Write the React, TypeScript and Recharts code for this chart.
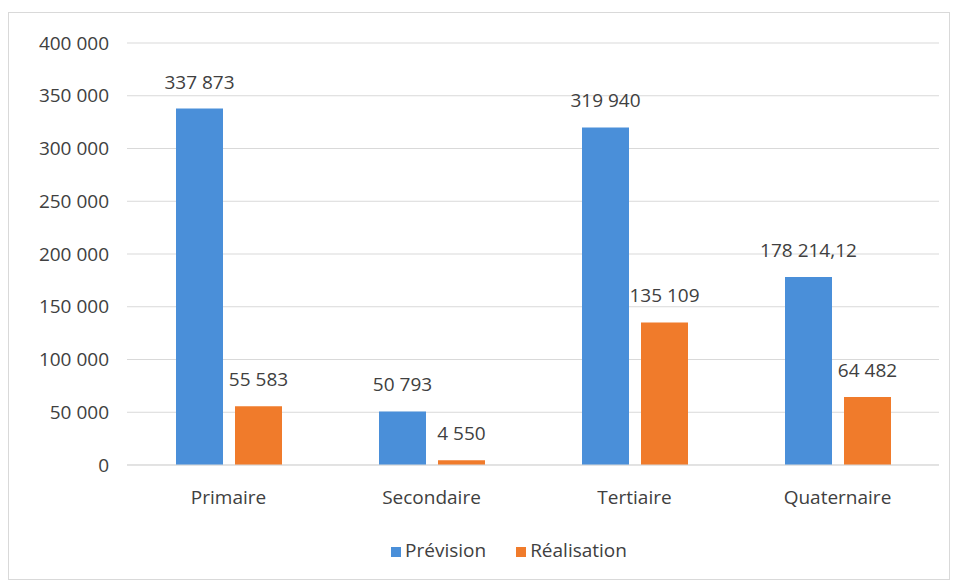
import React from 'react';
import { BarChart, Bar, XAxis, YAxis, CartesianGrid, Legend, LabelList } from 'recharts';

const categories = ['Primaire', 'Secondaire', 'Tertiaire', 'Quaternaire'];
const prevision = [337873, 50793, 319940, 178214.12];
const realisation = [55583, 4550, 135109, 64482];
const yTicks = [0, 50000, 100000, 150000, 200000, 250000, 300000, 350000, 400000];

const data = categories.map((name, i) => ({
  name,
  prevision: prevision[i],
  realisation: realisation[i],
}));

// French style: space as thousands separator, comma for decimals
const fmt = (v: number) => {
  const [int, dec] = String(v).split('.');
  const grouped = int.replace(/\B(?=(\d{3})+(?!\d))/g, ' ');
  return dec ? `${grouped},${dec}` : grouped;
};

const FONT = '"Open Sans", "Liberation Sans", sans-serif';
const TEXT = '#404040';
const FS = 19;

// single-line value label above each bar (default label wraps long numbers)
const TopLabel = (props: any) => {
  const { x, y, width, value } = props;
  return (
    <text x={x + width / 2} y={y - 20} textAnchor="middle" fill={TEXT} fontSize={FS} fontFamily={FONT}>
      {fmt(value)}
    </text>
  );
};

export default function App() {
  return (
    <div
      style={{
        width: 940,
        height: 566,
        marginTop: 4,
        border: '1px solid #d9d9d9',
        background: '#fff',
        fontFamily: FONT,
      }}
    >
      <BarChart
        width={940}
        height={566}
        data={data}
        margin={{ top: 30, right: 10, bottom: 16, left: 0 }}
        barGap={12}
        barSize={47}
      >
        <CartesianGrid vertical={false} stroke="#d9d9d9" />
        <YAxis
          width={118}
          domain={[0, 400000]}
          ticks={yTicks}
          tickFormatter={fmt}
          axisLine={false}
          tickLine={false}
          tickMargin={12}
          tick={{ fill: TEXT, fontSize: FS, fontFamily: FONT }}
        />
        <XAxis
          dataKey="name"
          axisLine={{ stroke: '#d9d9d9' }}
          tickLine={false}
          tickMargin={20}
          height={72}
          tick={{ fill: TEXT, fontSize: FS, fontFamily: FONT }}
        />
        <Legend
          iconType="square"
          iconSize={10}
          wrapperStyle={{ fontSize: FS, fontFamily: FONT, paddingLeft: 50 }}
          formatter={(v) => <span style={{ color: TEXT, marginRight: 20 }}>{v}</span>}
        />
        <Bar dataKey="prevision" name="Prévision" fill="#4a8fd9" isAnimationActive={false}>
          <LabelList dataKey="prevision" content={TopLabel} />
        </Bar>
        <Bar dataKey="realisation" name="Réalisation" fill="#f07b2b" isAnimationActive={false}>
          <LabelList dataKey="realisation" content={TopLabel} />
        </Bar>
      </BarChart>
    </div>
  );
}
